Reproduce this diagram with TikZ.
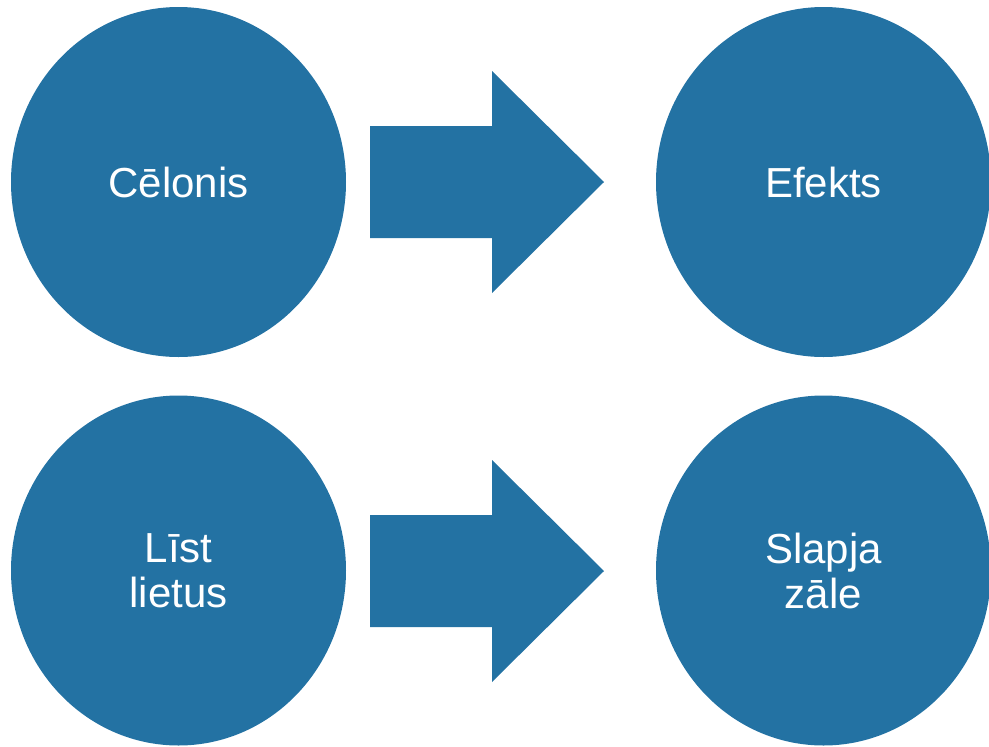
\documentclass[tikz,border=0pt]{standalone}
\usepackage{fontspec}
\setmainfont{Liberation Sans}
\usetikzlibrary{shapes.geometric}
\definecolor{blu}{HTML}{2372A3}

\begin{document}
\begin{tikzpicture}[x=1pt, y=-1pt]
        \tikzstyle{oval} = [ellipse, fill=blu, text=white, minimum width=335pt, minimum height=350pt, inner sep=0pt, align=center, font=\fontsize{42}{45}\selectfont]
        \tikzstyle{blockarrow} = [fill=blu]
        \useasboundingbox (0,0) rectangle (989,747);
        \node[oval] (cause) at (178.5, 182) {Cēlonis};
        \node[oval] (effect) at (823.5, 182) {Efekts};
        \node[oval] (rain) at (178.5, 570.5) {Līst\\lietus};
        \node[oval] (grass) at (823.5, 570.5) {Slapja\\zāle};
        \coordinate (tip1) at (604, 182);
        \coordinate (tip2) at (604, 571);
        \fill[blockarrow] (tip1) -- ++(-112, -111) -- ++(0, 55) -- ++(-122, 0) -- ++(0, 112) -- ++(122, 0) -- ++(0, 55) -- cycle;
        \fill[blockarrow] (tip2) -- ++(-112, -111) -- ++(0, 55) -- ++(-122, 0) -- ++(0, 112) -- ++(122, 0) -- ++(0, 55) -- cycle;
      \end{tikzpicture}
\end{document}
